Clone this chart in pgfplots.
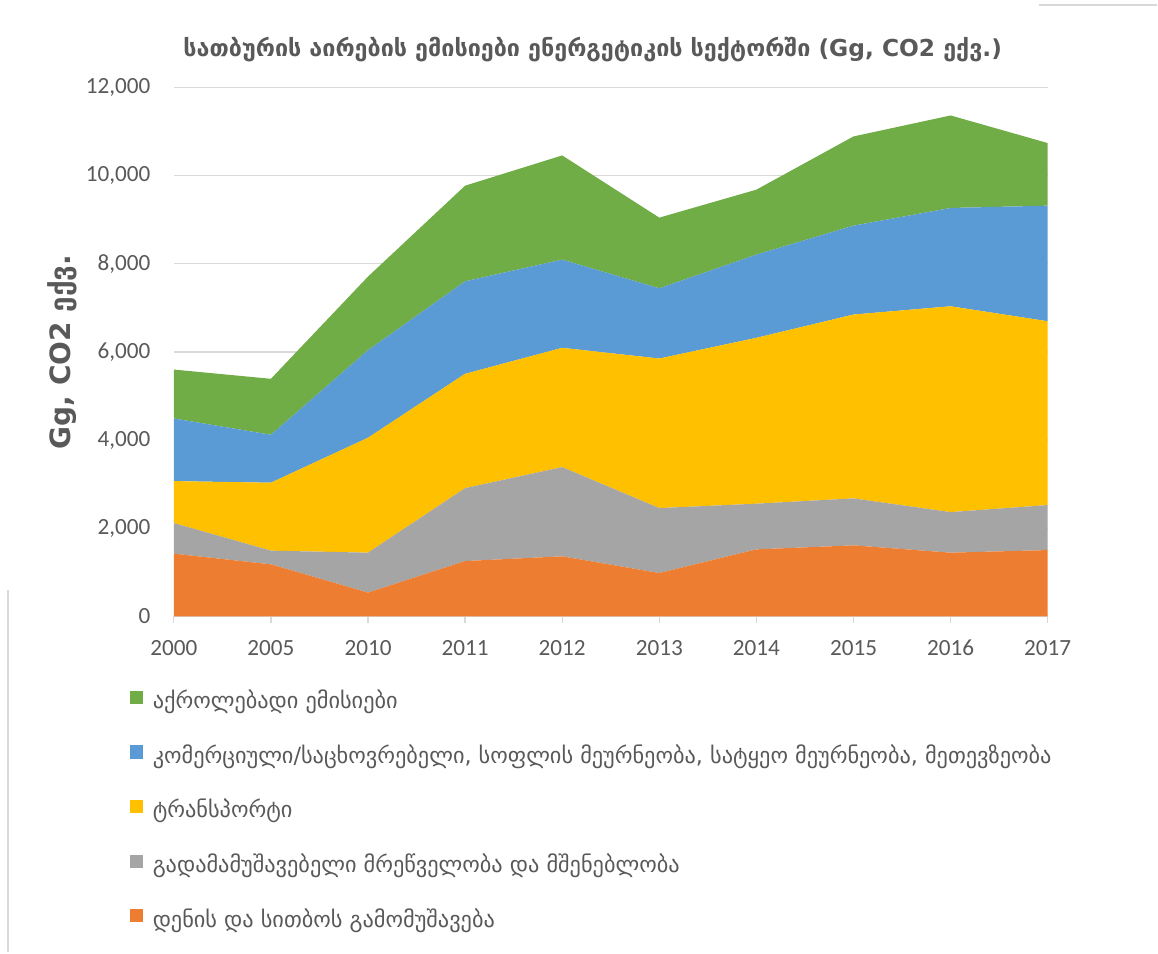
\documentclass[border=0pt]{standalone}
\usepackage{fontspec}
\setmainfont{Carlito}
\newfontfamily\geo{DejaVu Sans}
\usepackage{pgfplots}
\usepackage{pgfplotstable}
\pgfplotsset{compat=1.18}

\definecolor{cGreen}{HTML}{70AD47}
\definecolor{cBlue}{HTML}{5B9BD5}
\definecolor{cYellow}{HTML}{FFC000}
\definecolor{cGray}{HTML}{A5A5A5}
\definecolor{cOrange}{HTML}{ED7D31}
\definecolor{txt}{HTML}{595959}
\definecolor{gridc}{HTML}{D9D9D9}

% idx: 0=2000 1=2005 2=2010 ... 9=2017
\pgfplotstableread{
idx orange gray yellow blue green
0 1422 694 952 1422 1110
1 1179 311 1542 1088 1270
2 537 907 2608 1987 1671
3 1254 1655 2594 2100 2170
4 1361 2025 2707 2002 2365
5 982 1474 3394 1594 1604
6 1519 1037 3764 1889 1474
7 1610 1066 4172 2018 2025
8 1444 921 4671 2231 2100
9 1503 1021 4172 2624 1421
}\emissions

\begin{document}
\begin{tikzpicture}
\begin{axis}[
  scale only axis,
  width=328.1pt, height=198.5pt,
  stack plots=y,
  xmin=0, xmax=9,
  ymin=0, ymax=12000,
  xtick={0,...,9},
  xticklabels={2000,2005,2010,2011,2012,2013,2014,2015,2016,2017},
  ytick={0,2000,...,12000},
  scaled y ticks=false,
  /pgf/number format/.cd, 1000 sep={,}, assume math mode=true,
  /pgfplots/.cd,
  axis x line*=bottom,
  axis y line*=left,
  x axis line style={draw=gridc, line width=0.6pt},
  y axis line style={draw=none},
  ymajorgrids,
  grid style={draw=gridc, line width=0.5pt},
  tick align=outside,
  major tick length=2.6pt,
  xtick style={draw=gridc, line width=0.5pt},
  ytick style={draw=none},
  tick label style={font=\fontsize{8.7}{10}\selectfont, text=txt},
  xticklabel style={anchor=base, yshift=-12pt},
  yticklabel style={anchor=east, inner sep=0pt, xshift=-6pt},
  title={{\geo\bfseries სათბურის აირების ემისიები ენერგეტიკის სექტორში (Gg, CO2 ექვ.)}},
  title style={at={(axis description cs:0.5,1)}, anchor=base, yshift=5.6pt, xshift=-6.75pt,
    font=\fontsize{8.75}{10}\selectfont, text=txt},
  ylabel={{\geo\bfseries Gg, CO2 ექვ.}},
  every axis y label/.style={at={(axis description cs:-0.128,0.5)}, rotate=90, anchor=center,
    font=\fontsize{10.5}{12}\selectfont, text=txt},
  reverse legend,
  legend cell align=left,
  legend style={at={(axis description cs:-0.0503,-0.14)}, anchor=north west,
    draw=none, fill=none, inner sep=0pt, row sep=12.3pt,
    font=\geo\fontsize{8.37}{9}\selectfont, text=txt,
    nodes={inner sep=0pt, inner xsep=3.5pt, text height=5.5pt, text depth=1.5pt}},
  legend image code/.code={\fill[#1] (0pt,-0.2pt) rectangle (4.9pt,4.7pt);},
]
\addplot [fill=cOrange, draw=none] table [x=idx, y=orange] {\emissions} \closedcycle;
\addplot [fill=cGray, draw=none] table [x=idx, y=gray] {\emissions} \closedcycle;
\addplot [fill=cYellow, draw=none] table [x=idx, y=yellow] {\emissions} \closedcycle;
\addplot [fill=cBlue, draw=none] table [x=idx, y=blue] {\emissions} \closedcycle;
\addplot [fill=cGreen, draw=none] table [x=idx, y=green] {\emissions} \closedcycle;
\legend{დენის და სითბოს გამომუშავება,
  გადამამუშავებელი მრეწველობა და მშენებლობა,
  ტრანსპორტი,
  {კომერციული/საცხოვრებელი, სოფლის მეურნეობა, სატყეო მეურნეობა, მეთევზეობა},
  აქროლებადი ემისიები}
\coordinate (O) at (rel axis cs:0,0);
\end{axis}
\path ([shift={(-65.25pt,-126pt)}]O) rectangle ([shift={(369pt,231.375pt)}]O);
\draw[gridc, line width=1pt] ([shift={(-62.25pt,10pt)}]O) -- ([shift={(-62.25pt,-126pt)}]O);
\draw[gridc, line width=1pt] ([shift={(324.75pt,229.5pt)}]O) -- ([shift={(369pt,229.5pt)}]O);
\end{tikzpicture}
\end{document}
